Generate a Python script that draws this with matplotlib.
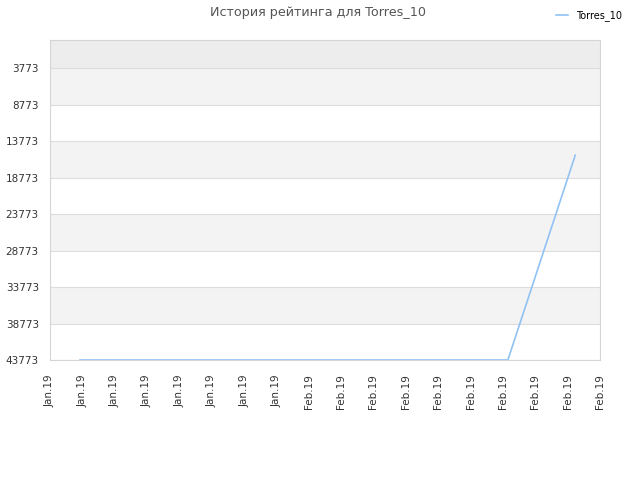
import matplotlib
matplotlib.use("Agg")
import matplotlib.pyplot as plt
import matplotlib.dates as mdates
import pandas as pd

# rating history (lower number = better rank, axis is inverted)
dates = pd.to_datetime(['2019-01-10 19:00', '2019-01-20 00:00', '2019-02-01 00:00',
                        '2019-02-10 00:00', '2019-02-19 11:00', '2019-02-25 17:00'])
ratings = [43773, 43773, 43773, 43773, 43773, 15690]
player = 'Torres_10'

y_ticks = [3773, 8773, 13773, 18773, 23773, 28773, 33773, 38773, 43773]
x_start = pd.Timestamp('2019-01-08')
x_end = pd.Timestamp('2019-02-28')

fig = plt.figure(figsize=(6.4, 4.8), dpi=100)
ax = fig.add_axes([0.078, 0.25, 0.8595, 0.6667])

# alternating background bands
ax.axhspan(-100, 3773, color='#ededed', zorder=0, lw=0)
for i in range(len(y_ticks) - 1):
    if i % 2 == 0:
        ax.axhspan(y_ticks[i], y_ticks[i + 1], color='#f3f3f3', zorder=0, lw=0)

ax.plot(dates, ratings, color='#90c2f4', lw=1.2, label=player, zorder=3)

ax.set_ylim(43773, -100)
ax.set_yticks(y_ticks)
ax.set_xlim(x_start, x_end)
ax.set_xticks(pd.date_range(x_start, x_end, freq='3D'))
ax.xaxis.set_major_formatter(mdates.DateFormatter('%b.%y'))

ax.grid(axis='y', color='#dddddd', lw=0.8)
ax.grid(axis='x', visible=False)
ax.set_axisbelow(True)
for s in ax.spines.values():
    s.set_color('#d5d5d5')
ax.tick_params(length=0, labelsize=7.5, labelcolor='#333333')
ax.tick_params(axis='y', pad=8)
ax.tick_params(axis='x', pad=10)
plt.setp(ax.get_xticklabels(), rotation=90)

fig.suptitle('История рейтинга для ' + player, x=0.497, y=0.987,
             fontsize=9.2, color='#555555')
fig.legend(loc='upper right', bbox_to_anchor=(0.985, 0.997), frameon=False,
           fontsize=7, handlelength=1.2)

plt.savefig('out.png')
